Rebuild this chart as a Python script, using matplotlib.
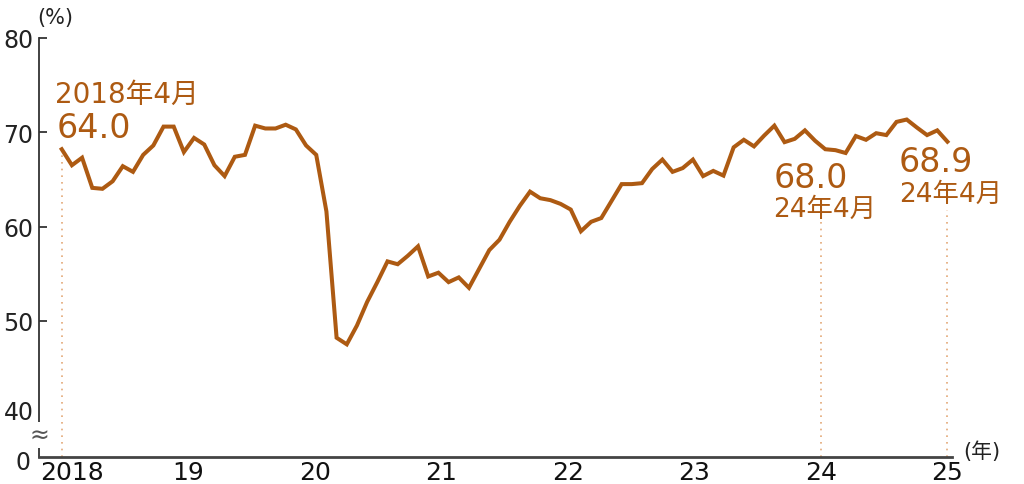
import numpy as np
import matplotlib
matplotlib.use("Agg")
import matplotlib.pyplot as plt
import matplotlib.transforms as mtransforms

plt.rcParams['font.family'] = ['DejaVu Sans', 'Noto Sans CJK JP']

# monthly rate (%)
rate = [68.2, 66.5, 67.3, 64.1, 64.0, 64.8, 66.4, 65.8, 67.6, 68.6,
        70.6, 70.6, 67.9, 69.4, 68.7, 66.5, 65.35, 67.4, 67.6, 70.7,
        70.4, 70.4, 70.8, 70.3, 68.6, 67.6, 61.6, 48.2, 47.5, 49.5,
        52.0, 54.1, 56.3, 56.0, 56.9, 57.9, 54.7, 55.1, 54.1, 54.6,
        53.5, 55.5, 57.5, 58.6, 60.5, 62.2, 63.7, 63.0, 62.8, 62.4,
        61.8, 59.5, 60.5, 60.9, 62.7, 64.5, 64.5, 64.6, 66.1, 67.1,
        65.8, 66.2, 67.1, 65.35, 65.9, 65.4, 68.4, 69.2, 68.5, 69.65,
        70.7, 68.95, 69.3, 70.2, 69.1, 68.2, 68.1, 67.8, 69.6, 69.2,
        69.9, 69.7, 71.1, 71.35, 70.5, 69.7, 70.2, 69.0]
year_labels = ['2018', '19', '20', '21', '22', '23', '24', '25']
ytick_vals = [50, 60, 70, 80]

brown = '#AD5A12'
dot_col = '#E3A877'
axis_col = '#333333'

x = np.arange(len(rate))
year_pos = np.linspace(0, len(rate) - 1, len(year_labels))
ybottom = 35.55

fig = plt.figure(figsize=(10.24, 4.85), dpi=100)
ax = fig.add_axes([0.0381, 0.0557, 0.8916, 0.8639])
ax.set_xlim(-2.23, 87.45)
ax.set_ylim(ybottom, 80)

ax.plot(x, rate, color=brown, lw=2.9, solid_joinstyle='miter', zorder=3)

# dotted guide lines
ax.plot([year_pos[0], year_pos[0]], [ybottom, rate[0] - 0.3], ls=(0, (1, 3)), color=dot_col, lw=1.2)
ax.plot([year_pos[6], year_pos[6]], [ybottom, 60.6], ls=(0, (1, 3)), color=dot_col, lw=1.2)
ax.plot([year_pos[7], year_pos[7]], [ybottom, 61.7], ls=(0, (1, 3)), color=dot_col, lw=1.2)

# spines
for s in ['top', 'right']:
    ax.spines[s].set_visible(False)
ax.spines['left'].set_color(axis_col)
ax.spines['left'].set_linewidth(1.3)
ax.spines['bottom'].set_color('#444444')
ax.spines['bottom'].set_linewidth(2.0)

# y ticks
ax.set_yticks([ybottom, 40] + ytick_vals)
ax.set_yticklabels(['0', '40'] + [str(v) for v in ytick_vals])
ax.tick_params(axis='y', direction='in', length=6, width=1.3, color=axis_col,
               labelsize=17, pad=4, labelcolor='#222222')
ylines = ax.yaxis.get_ticklines()
for tl in ylines[:4]:
    tl.set_visible(False)
ylabs = ax.get_yticklabels()
ylabs[1].set_transform(ylabs[1].get_transform() + mtransforms.ScaledTranslation(0, 6 / 100, fig.dpi_scale_trans))
ylabs[0].set_transform(ylabs[0].get_transform() + mtransforms.ScaledTranslation(-3 / 100, -3 / 100, fig.dpi_scale_trans))

# x ticks
ax.set_xticks(year_pos)
ax.set_xticklabels(year_labels)
ax.tick_params(axis='x', length=0, labelsize=18, pad=2, labelcolor='#111111')
xl = ax.get_xticklabels()
xl[0].set_transform(xl[0].get_transform() + mtransforms.ScaledTranslation(10 / 100, 0, fig.dpi_scale_trans))

# axis break mark
ax.text(-2.23, 37.9, '≈', fontsize=17, color='#555555', ha='center', va='center',
        bbox=dict(facecolor='white', edgecolor='none', pad=0.5), zorder=5, clip_on=False)

# unit labels
fig.text(0.036, 0.962, '(%)', fontsize=15, color='#222222', ha='left', va='center')
fig.text(0.941, 0.068, '(年)', fontsize=15, color='#222222', ha='left', va='center')

# annotations
ax.text(-0.66, 73.2, '2018年4月', fontsize=20, color=brown, ha='left', va='baseline')
ax.text(-0.46, 69.5, '64.0', fontsize=24, color=brown, ha='left', va='baseline')
ax.text(69.9, 64.2, '68.0', fontsize=24, color=brown, ha='left', va='baseline')
ax.text(69.9, 61.15, '24年4月', fontsize=19, color=brown, ha='left', va='baseline')
ax.text(82.25, 65.9, '68.9', fontsize=24, color=brown, ha='left', va='baseline')
ax.text(82.25, 62.7, '24年4月', fontsize=19, color=brown, ha='left', va='baseline')

fig.savefig('out.png', dpi=100)
